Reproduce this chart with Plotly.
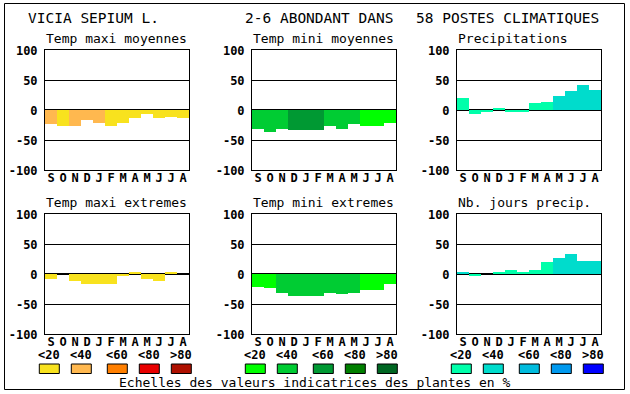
import plotly.graph_objects as go

W, H = 630, 394

months = ["S", "O", "N", "D", "J", "F", "M", "A", "M", "J", "J", "A"]

tmax_moy = [-24, -27, -26, -17, -22, -26, -21, -14, -6, -14, -12, -14]
tmax_moy_cls = [1, 0, 1, 1, 1, 0, 0, 0, 0, 0, 0, 0]
tmin_moy = [-31, -36, -32, -34, -34, -34, -27, -32, -24, -27, -27, -22]
tmin_moy_cls = [1, 1, 1, 2, 2, 2, 1, 1, 1, 0, 0, 0]
precip = [20, -7, -2, 3, -2, -2, 11, 14, 24, 32, 41, 34]
precip_cls = [0, 0, 0, 0, 0, 0, 0, 0, 1, 1, 1, 1]
tmax_ext = [-8, 0, -11, -17, -16, -17, -2, 4, -8, -12, 4, 0]
tmax_ext_cls = [0, 0, 0, 0, 0, 0, 0, 0, 0, 0, 0, 0]
tmin_ext = [-21, -24, -31, -37, -37, -36, -32, -34, -32, -26, -26, -17]
tmin_ext_cls = [0, 0, 1, 1, 1, 1, 1, 1, 1, 0, 0, 0]
jours = [4, -2, 0, 4, 7, 2, 6, 20, 26, 34, 21, 21]
jours_cls = [1, 0, 0, 0, 0, 0, 0, 0, 1, 1, 1, 1]

panel_titles = ["Temp maxi moyennes", "Temp mini moyennes", "Precipitations",
                "Temp maxi extremes", "Temp mini extremes", "Nb. jours precip."]
y_ticks = [-100, -50, 0, 50, 100]
scale_labels = ["<20", "<40", "<60", "<80", ">80"]

pal_temp_max = ["#f8e21e", "#ffb84f", "#ff7f00", "#e80000", "#ae1000"]
pal_temp_min = ["#00ff00", "#00cc33", "#009933", "#007f00", "#006622"]
pal_water = ["#00ffaa", "#00dccc", "#00bbdd", "#0099ee", "#0000ff"]

series = [
    (tmax_moy, tmax_moy_cls, pal_temp_max),
    (tmin_moy, tmin_moy_cls, pal_temp_min),
    (precip, precip_cls, pal_water),
    (tmax_ext, tmax_ext_cls, pal_temp_max),
    (tmin_ext, tmin_ext_cls, pal_temp_min),
    (jours, jours_cls, pal_water),
]

cols_px = [(45, 189), (252, 396), (457, 601)]
rows_px = [(50.3, 170.3), (214.3, 334.3)]

MONO = "DejaVu Sans Mono"

fig = go.Figure()
layout = dict(
    width=W, height=H,
    margin=dict(l=0, r=0, t=0, b=0, pad=0, autoexpand=False),
    paper_bgcolor="white", plot_bgcolor="white", showlegend=False,
    bargap=0, font=dict(family=MONO, color="black"),
)
annotations = []
shapes = []

for i, (vals, cls, pal) in enumerate(series):
    r, c = divmod(i, 3)
    n = i + 1
    xs = "" if n == 1 else str(n)
    x0, x1 = cols_px[c]
    y0, y1 = rows_px[r]
    fig.add_trace(go.Bar(
        x=list(range(len(months))), y=vals, width=1,
        marker=dict(color=[pal[k] for k in cls], line=dict(width=0)),
        xaxis="x" + xs, yaxis="y" + xs, hoverinfo="skip",
    ))
    layout["xaxis" + xs] = dict(
        domain=[x0 / W, x1 / W], anchor="y" + xs, range=[-0.5, 11.5],
        tickvals=list(range(12)), ticktext=months, showgrid=False,
        showline=True, linecolor="black", linewidth=1, mirror=True,
        ticks="", zeroline=False, fixedrange=True, automargin=False,
        ticklabelstandoff=-4,
        tickfont=dict(family=MONO, size=12, color="black", weight="bold"),
    )
    layout["yaxis" + xs] = dict(
        domain=[1 - y1 / H, 1 - y0 / H], anchor="x" + xs, range=[-100, 100],
        tickvals=y_ticks, ticktext=[str(v) for v in y_ticks],
        showgrid=True, gridcolor="black", gridwidth=1,
        zeroline=True, zerolinecolor="black", zerolinewidth=1.5,
        showline=True, linecolor="black", linewidth=1, mirror=True,
        ticks="", ticklabelstandoff=4, fixedrange=True, layer="above traces",
        automargin=False,
        tickfont=dict(family=MONO, size=12, color="black", weight="bold"),
    )
    annotations.append(dict(
        text=panel_titles[i], xref="paper", yref="paper",
        x=(x0 - 1) / W, y=1 - (y0 - 12) / H, xanchor="left", yanchor="middle",
        showarrow=False, font=dict(family=MONO, size=13, color="black"),
    ))

# header
header = [("VICIA SEPIUM L.", 26), ("2-6 ABONDANT DANS", 243), ("58 POSTES CLIMATIQUES", 414)]
for txt, xp in header:
    annotations.append(dict(
        text=txt, xref="paper", yref="paper", x=xp / W, y=1 - 18 / H,
        xanchor="left", yanchor="middle", showarrow=False,
        font=dict(family=MONO, size=14.5, color="black"),
    ))

# legend scales
box_left = [[39.3, 71.3, 107.3, 139.3, 171.3],
            [245.3, 277.3, 313.3, 345.3, 377.3],
            [451.3, 483.3, 519.3, 551.3, 583.3]]
pals = [pal_temp_max, pal_temp_min, pal_water]
for g in range(3):
    for k in range(5):
        bx = box_left[g][k]
        shapes.append(dict(
            type="rect", xref="paper", yref="paper",
            x0=bx / W, x1=(bx + 20) / W, y0=1 - 373.5 / H, y1=1 - 364 / H,
            fillcolor=pals[g][k], line=dict(color="black", width=1),
        ))
        annotations.append(dict(
            text=scale_labels[k], xref="paper", yref="paper",
            x=(bx + 10) / W, y=1 - 354.5 / H, xanchor="center", yanchor="middle",
            showarrow=False,
            font=dict(family=MONO, size=12, color="black", weight="bold"),
        ))

annotations.append(dict(
    text="Echelles des valeurs indicatrices des plantes en %",
    xref="paper", yref="paper", x=315 / W, y=1 - 382.5 / H,
    xanchor="center", yanchor="middle", showarrow=False,
    font=dict(family=MONO, size=13, color="black"),
))

# outer frame
shapes.append(dict(
    type="rect", xref="paper", yref="paper",
    x0=4.5 / W, x1=624.5 / W, y0=1 - 389.5 / H, y1=1 - 3.5 / H,
    line=dict(color="black", width=1), fillcolor="rgba(0,0,0,0)",
))

layout["annotations"] = annotations
layout["shapes"] = shapes
fig.update_layout(**layout)
fig.write_html(
    "out.html",
    config={"displayModeBar": False},
    post_script="document.body.style.margin='0px';document.body.style.overflow='hidden';",
)
